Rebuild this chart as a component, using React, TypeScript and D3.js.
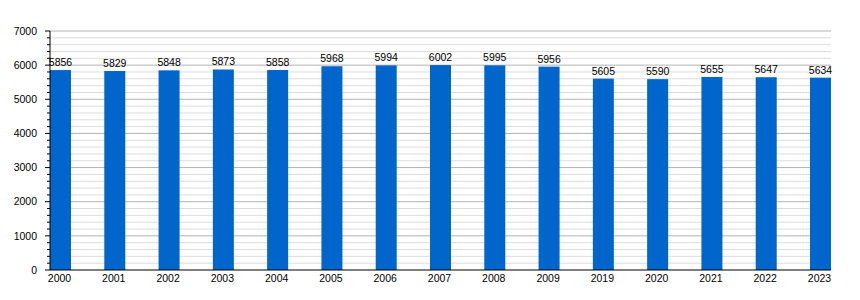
import React from "react";
import * as d3 from "d3";

const years = ["2000","2001","2002","2003","2004","2005","2006","2007","2008","2009","2019","2020","2021","2022","2023"];
const values = [5856,5829,5848,5873,5858,5968,5994,6002,5995,5956,5605,5590,5655,5647,5634];
const majorTicks = [0,1000,2000,3000,4000,5000,6000,7000];

export default function App() {
  const W = 860, H = 300;
  const left = 50, right = 831, top = 31, bottom = 270;
  const barW = 21;
  const y = d3.scaleLinear().domain([0, 7000]).range([bottom, top]);
  const x = d3.scalePoint<string>().domain(years).range([left + barW / 2, right - barW / 2]);
  const minorTicks = d3.range(0, 7001, 200).filter(v => v % 1000 !== 0);
  const font = "'Liberation Sans', Arial, sans-serif";
  return (
    <svg width={W} height={H} style={{ position: "absolute", left: 0, top: 0 }} fontFamily={font}>
      <rect width={W} height={H} fill="#fff" />
      {minorTicks.map(v => (
        <g key={"m" + v}>
          <line x1={left} x2={right} y1={y(v)} y2={y(v)} stroke="#dddddd" strokeWidth={1} />
          <line x1={left - 3} x2={left} y1={y(v)} y2={y(v)} stroke="#000" strokeWidth={1} />
        </g>
      ))}
      {majorTicks.map(v => (
        <g key={"M" + v}>
          {v > 0 && <line x1={left} x2={right} y1={y(v)} y2={y(v)} stroke="#b3b3b3" strokeWidth={1} />}
          <line x1={left - 5} x2={left} y1={y(v)} y2={y(v)} stroke="#000" strokeWidth={1} />
          <text x={left - 13} y={y(v)} dy="0.35em" textAnchor="end" fontSize={10.5} fill="#000">{v}</text>
        </g>
      ))}
      {years.map((yr, i) => (
        <g key={yr}>
          <rect x={x(yr)! - barW / 2} y={y(values[i])} width={barW} height={bottom - y(values[i])} fill="#0066cc" />
          <text x={x(yr)!} y={y(values[i]) - 4} textAnchor="middle" fontSize={10.5} fill="#000">{values[i]}</text>
          <text x={x(yr)! - 1} y={282} textAnchor="middle" fontSize={10.5} fill="#000">{yr}</text>
        </g>
      ))}
      <line x1={left} x2={left} y1={top} y2={bottom} stroke="#000" strokeWidth={1} />
      <line x1={left} x2={right} y1={bottom} y2={bottom} stroke="#000" strokeWidth={1.2} />
    </svg>
  );
}
